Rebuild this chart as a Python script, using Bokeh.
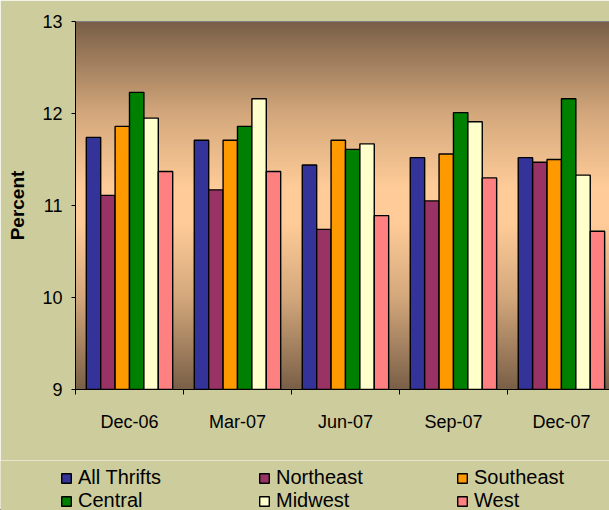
import numpy as np
from bokeh.plotting import figure
from bokeh.layouts import column, row
from bokeh.models import FixedTicker, Legend, LegendItem, Range1d, LinearAxis
from bokeh.embed import file_html
from bokeh.resources import INLINE

categories = ["Dec-06", "Mar-07", "Jun-07", "Sep-07", "Dec-07"]
series_names = ["All Thrifts", "Northeast", "Southeast", "Central", "Midwest", "West"]
all_thrifts = [11.74, 11.71, 11.44, 11.52, 11.52]
northeast = [11.11, 11.17, 10.74, 11.05, 11.47]
southeast = [11.86, 11.71, 11.71, 11.56, 11.50]
central = [12.23, 11.86, 11.61, 12.01, 12.16]
midwest = [11.95, 12.16, 11.67, 11.91, 11.33]
west = [11.37, 11.37, 10.89, 11.30, 10.72]
series_values = [all_thrifts, northeast, southeast, central, midwest, west]
colors = ["#333399", "#993366", "#FF9900", "#008000", "#FFFFCC", "#FF8080"]
y_ticks = [9, 10, 11, 12, 13]

BG = "#CCCC9C"
FONT = "Liberation Sans"
p = figure(frame_width=534, frame_height=368, output_backend="svg", toolbar_location=None,
           x_range=Range1d(0, 4.945), y_range=Range1d(9, 13),
           min_border_left=75, min_border_top=21, min_border_bottom=71, min_border_right=0,
           background_fill_color=BG, border_fill_color=BG)
p.outline_line_color = None

# gradient background (decorative)
stops_y = [9.0, 10.0, 10.8, 11.2, 12.0, 13.0]
stops_c = [(122, 96, 72), (212, 168, 124), (255, 204, 153), (255, 204, 153), (212, 168, 124), (122, 96, 72)]
N = 400
ys = np.linspace(9, 13, N)
img = np.empty((N, 1), dtype=np.uint32)
view = img.view(dtype=np.uint8).reshape((N, 1, 4))
for k, yy in enumerate(ys):
    view[k, 0, 0] = int(np.interp(yy, stops_y, [c[0] for c in stops_c]))
    view[k, 0, 1] = int(np.interp(yy, stops_y, [c[1] for c in stops_c]))
    view[k, 0, 2] = int(np.interp(yy, stops_y, [c[2] for c in stops_c]))
    view[k, 0, 3] = 255
p.image_rgba(image=[img], x=0, y=9, dw=5, dh=4)

# gridlines
p.xgrid.visible = False
p.ygrid.grid_line_color = "#F5E6D6"
p.ygrid.grid_line_width = 1.5
p.ygrid.ticker = FixedTicker(ticks=[10, 11, 12])

n = len(series_names)
bw = 1.0 / (n + 1.5)
xc = np.arange(len(categories)) + 0.5
for i, (name, vals, c) in enumerate(zip(series_names, series_values, colors)):
    xs = xc - (n * bw) / 2 + bw * (i + 0.5)
    p.vbar(x=xs, top=vals, bottom=9, width=bw, fill_color=c, line_color="black", line_width=1.4)

# axes
p.xaxis.ticker = FixedTicker(ticks=list(xc), minor_ticks=list(range(len(categories) + 1)))
p.xaxis.major_label_overrides = {float(x): c for x, c in zip(xc, categories)}
p.xaxis.major_tick_out = 0
p.xaxis.major_tick_in = 0
p.xaxis.minor_tick_out = 5
p.xaxis.minor_tick_in = 0
p.xaxis.minor_tick_line_color = "black"
p.xaxis.axis_line_color = "black"
p.xaxis.major_label_text_font = FONT
p.xaxis.major_label_text_font_size = "18px"
p.xaxis.major_label_text_color = "black"
p.xaxis.major_label_standoff = 17

p.yaxis.ticker = FixedTicker(ticks=y_ticks)
p.yaxis.minor_tick_out = 0
p.yaxis.minor_tick_in = 0
p.yaxis.major_tick_out = 4
p.yaxis.major_tick_in = 0
p.yaxis.axis_line_color = "black"
p.yaxis.major_label_text_font = FONT
p.yaxis.major_label_text_font_size = "18px"
p.yaxis.major_label_text_color = "black"
p.yaxis.major_label_standoff = 9
p.yaxis.axis_label = "Percent"
p.yaxis.axis_label_text_font = FONT
p.yaxis.axis_label_text_font_size = "19px"
p.yaxis.axis_label_text_font_style = "bold"
p.yaxis.axis_label_text_color = "black"
p.yaxis.axis_label_standoff = 11

top_axis = LinearAxis(ticker=FixedTicker(ticks=[]), axis_line_color="#808080",
                      major_label_text_font_size="0px", major_tick_out=0, minor_tick_out=0)
p.add_layout(top_axis, "above")

# legend figure below the chart
p2 = figure(width=609, height=50, output_backend="svg", toolbar_location=None,
            x_range=Range1d(0, 609), y_range=Range1d(0, 50),
            x_axis_type=None, y_axis_type=None,
            min_border=0, background_fill_color=BG, border_fill_color=BG)
p2.outline_line_color = None
p2.xgrid.visible = False
p2.ygrid.visible = False
rend = {}
for name, c in zip(series_names, colors):
    rend[name] = p2.vbar(x=[-1000], top=[-1000], bottom=[-1001], width=1,
                         fill_color=c, line_color="black", line_width=1.4)
order = [0, 3, 1, 4, 2, 5]  # row-major reading order for 3 columns
items = [LegendItem(label=series_names[k], renderers=[rend[series_names[k]]]) for k in order]

legend = Legend(items=items, ncols=3, location=(60, -2),
                glyph_width=12, glyph_height=12, label_standoff=6, label_width=180,
                spacing=0, padding=0, margin=0,
                label_text_font=FONT, label_text_font_size="20px",
                label_text_color="black", label_height=20,
                border_line_color=None, background_fill_alpha=0)
legend.label_text_line_height = 1.0
p2.add_layout(legend, "center")

layout = column(p, row(p2, spacing=0), spacing=0)
open("out.html", "w").write(file_html(layout, INLINE))
